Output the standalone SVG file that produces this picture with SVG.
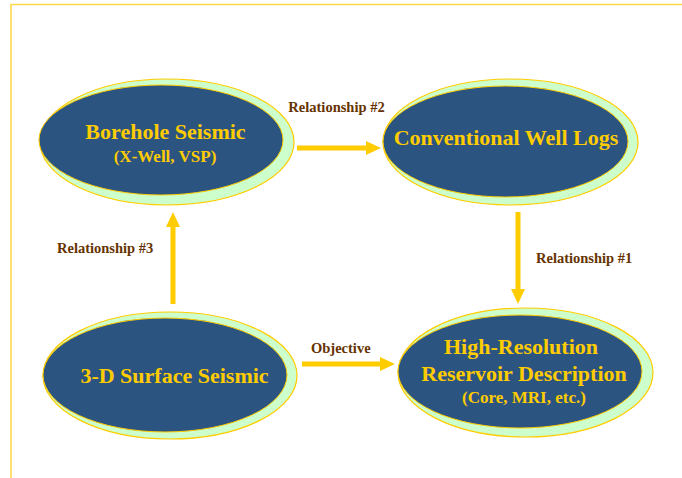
<svg xmlns="http://www.w3.org/2000/svg" width="682" height="478" viewBox="0 0 682 478">
<style>
.bg{fill:#CCFFCC;stroke:#FFCC00;stroke-width:1.2}
.fg{fill:#2C5481;stroke:#FFCC00;stroke-width:1}
.t{font-family:"Liberation Serif","Times New Roman",serif;font-weight:bold;fill:#FFCC00;text-anchor:middle}
.big{font-size:22px}
.sm{font-size:17px}
.lbl{font-family:"Liberation Serif","Times New Roman",serif;font-weight:bold;font-size:14.5px;fill:#663300}
.conn{stroke:#FFCC00;stroke-width:5;fill:none;marker-end:url(#ah)}
.frame{stroke:#FFD94A;stroke-width:1.6;fill:none}
</style>
<defs>
<marker id="ah" markerUnits="userSpaceOnUse" markerWidth="15" markerHeight="14" refX="0" refY="7" orient="auto">
<path d="M0,0 L15,7 L0,14 z" fill="#FFCC00"/>
</marker>
</defs>
<rect width="682" height="478" fill="#ffffff"/>
<path class="frame" d="M11,478 V4.5 H682"/>
<g id="borehole">
<ellipse class="bg" cx="167" cy="142" rx="127" ry="63"/>
<ellipse class="fg" cx="161" cy="140" rx="122" ry="55"/>
<text class="t big" x="165.5" y="139">Borehole Seismic</text>
<text class="t sm" x="165" y="162">(X-Well, VSP)</text>
</g>
<g id="wellLogs">
<ellipse class="bg" cx="510.5" cy="142" rx="127.5" ry="63"/>
<ellipse class="fg" cx="505.5" cy="141.5" rx="122.5" ry="55.5"/>
<text class="t big" x="506" y="145">Conventional Well Logs</text>
</g>
<g id="surface">
<ellipse class="bg" cx="170" cy="375.5" rx="127" ry="63.5"/>
<ellipse class="fg" cx="165" cy="375" rx="122" ry="57"/>
<text class="t big" x="174.5" y="383">3-D Surface Seismic</text>
</g>
<g id="reservoir">
<ellipse class="bg" cx="525.5" cy="372.5" rx="127.5" ry="64.5"/>
<ellipse class="fg" cx="520" cy="371.5" rx="122" ry="56.5"/>
<text class="t big" x="521" y="354">High-Resolution</text>
<text class="t big" x="524" y="381">Reservoir Description</text>
<text class="t sm" x="524" y="403">(Core, MRI, etc.)</text>
</g>
<g id="connectors">
<line class="conn" x1="297" y1="148" x2="366" y2="148"/>
<line class="conn" x1="518" y1="212" x2="518" y2="289"/>
<line class="conn" x1="173" y1="304" x2="173" y2="227"/>
<line class="conn" x1="302" y1="364" x2="380" y2="364"/>
<text class="lbl" x="336.5" y="112" text-anchor="middle">Relationship #2</text>
<text class="lbl" x="536" y="263">Relationship #1</text>
<text class="lbl" x="57" y="253">Relationship #3</text>
<text class="lbl" x="311" y="353">Objective</text>
</g>
</svg>
